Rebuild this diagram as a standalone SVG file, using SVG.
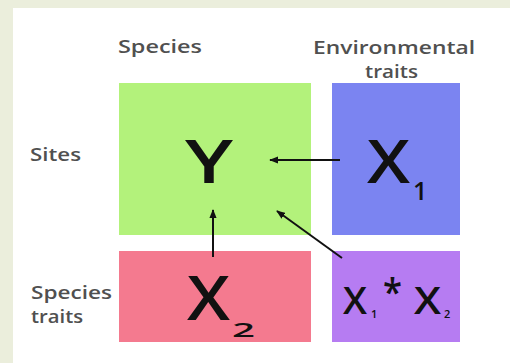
<svg xmlns="http://www.w3.org/2000/svg" width="510" height="363" viewBox="0 0 510 363">
  <defs>
    <marker id="head" viewBox="0 0 10 8" refX="9" refY="4" markerWidth="4.5" markerHeight="3.6" orient="auto" markerUnits="strokeWidth">
      <path d="M0,0 L10,4 L0,8 Z" fill="#111"/>
    </marker>
  </defs>
  <style>
    .label { font-family: "Open Sans", "DejaVu Sans", sans-serif; font-size: 17.5px; font-weight: 600; fill: #505050; }
    .big { font-family: "Open Sans", "DejaVu Sans", sans-serif; font-weight: 600; fill: #111; }
    .conn { stroke: #111; stroke-width: 2; fill: none; marker-end: url(#head); }
  </style>
  <rect x="0" y="0" width="510" height="363" fill="#ebeedc"/>
  <rect x="13" y="8" width="497" height="355" fill="#ffffff"/>

  <!-- row and column labels -->
  <text class="label" x="118" y="53" textLength="84" lengthAdjust="spacingAndGlyphs">Species</text>
  <text class="label" x="313" y="54" textLength="162" lengthAdjust="spacingAndGlyphs">Environmental</text>
  <text class="label" x="365" y="78" textLength="53" lengthAdjust="spacingAndGlyphs">traits</text>
  <text class="label" x="30" y="161" textLength="51" lengthAdjust="spacingAndGlyphs">Sites</text>
  <text class="label" x="31" y="299" textLength="81" lengthAdjust="spacingAndGlyphs">Species</text>
  <text class="label" x="31" y="323" textLength="52" lengthAdjust="spacingAndGlyphs">traits</text>

  <g id="node-y">
    <rect x="119" y="83" width="192" height="152" fill="#b3f27b"/>
    <text class="big" x="185" y="183" font-size="60" textLength="48" lengthAdjust="spacingAndGlyphs">Y</text>
  </g>
  <g id="node-x1">
    <rect x="332" y="83" width="128" height="152" fill="#7b84f1"/>
    <text class="big" x="367" y="183" font-size="60" textLength="43" lengthAdjust="spacingAndGlyphs">X</text>
    <text class="big" x="413" y="200" font-size="25">1</text>
  </g>
  <g id="node-x2">
    <rect x="119" y="251" width="192" height="91" fill="#f47a8f"/>
    <text class="big" x="187" y="320" font-size="62" textLength="43" lengthAdjust="spacingAndGlyphs">X</text>
    <text class="big" x="232" y="337" font-size="20" textLength="23" lengthAdjust="spacingAndGlyphs">2</text>
  </g>
  <g id="node-x1x2">
    <rect x="332" y="251" width="128" height="91" fill="#b67cf2"/>
    <text class="big" x="343" y="314" font-size="38" textLength="24" lengthAdjust="spacingAndGlyphs">X</text>
    <text class="big" x="371" y="318" font-size="11">1</text>
    <text class="big" x="383" y="306" font-size="38" textLength="19" lengthAdjust="spacingAndGlyphs">*</text>
    <text class="big" x="414" y="314" font-size="38" textLength="27" lengthAdjust="spacingAndGlyphs">X</text>
    <text class="big" x="444" y="318" font-size="11">2</text>
  </g>

  <g id="connectors">
    <line class="conn" x1="340" y1="160" x2="270" y2="160"/>
    <line class="conn" x1="213" y1="257" x2="213" y2="210"/>
    <line class="conn" x1="342" y1="258" x2="277" y2="211"/>
  </g>
</svg>
